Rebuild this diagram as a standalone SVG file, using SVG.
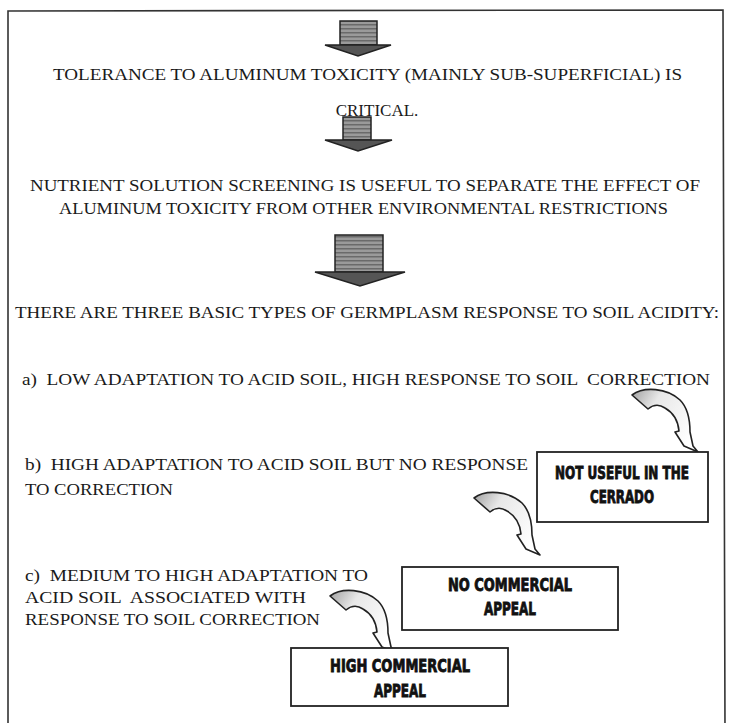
<svg xmlns="http://www.w3.org/2000/svg" width="729" height="723" viewBox="0 0 729 723">
<style>
.t{font-family:"Liberation Serif","Times New Roman","DejaVu Serif",serif;font-size:17px;fill:#1a1a1a}
.b{font-family:"DejaVu Sans Condensed","Liberation Sans Narrow","Liberation Sans",sans-serif;font-weight:bold;font-size:17px;fill:#111;stroke:#111;stroke-width:0.8;text-anchor:middle}
.box{fill:#fff;stroke:#222;stroke-width:1.8}
.blk{fill:url(#stripes);stroke:#222;stroke-width:1.5}
.head{fill:#555;stroke:#222;stroke-width:1.5}
.curve{fill:url(#cg);stroke:#222;stroke-width:1.6;stroke-linejoin:round}
</style>
<defs>
<pattern id="stripes" width="6" height="4" patternUnits="userSpaceOnUse">
<rect width="6" height="4" fill="#9a9a9a"/>
<rect width="6" height="1.5" fill="#6a6a6a"/>
</pattern>
<linearGradient id="cg" x1="0" y1="0" x2="1" y2="0.6">
<stop offset="0" stop-color="#a0a0a0"/>
<stop offset="0.35" stop-color="#e8e8e8"/>
<stop offset="1" stop-color="#ffffff"/>
</linearGradient>
<path id="carrow" d="M0,3 C12,-6 35,-4 48,8 C57,17 58,30 58,40 L61,54 L66,60 L52,54 L43,40 L47,39 C46,28 40,20 33,16 C27,12 22,12 16,17 Z"/>
</defs>
<g id="frame"><path d="M8,732 L8,11 L723,10 L725,732" fill="none" stroke="#333" stroke-width="1.6"/></g>
<g id="connectors">
<g id="arrow1"><rect class="blk" x="340" y="21" width="37" height="24"/><path class="head" d="M325,45 L391,45 L358,56 Z"/></g>
<g id="arrow2"><rect class="blk" x="343" y="117" width="28" height="23"/><path class="head" d="M325,140 L392,140 L358,151 Z"/></g>
<g id="arrow3"><rect class="blk" x="335" y="235" width="48" height="37"/><path class="head" d="M315,272 L405,272 L360,286 Z"/></g>
<use href="#carrow" class="curve" x="632" y="392"/>
<use href="#carrow" class="curve" x="474" y="495"/>
<use href="#carrow" class="curve" x="330" y="593"/>
</g>
<g id="intro">
<text class="t" x="53" y="80" textLength="629" lengthAdjust="spacingAndGlyphs">TOLERANCE TO ALUMINUM TOXICITY (MAINLY SUB-SUPERFICIAL) IS</text>
<text class="t" x="377" y="116" text-anchor="middle">CRITICAL.</text>
</g>
<g id="screening">
<text class="t" x="30" y="191" textLength="670" lengthAdjust="spacingAndGlyphs">NUTRIENT SOLUTION SCREENING IS USEFUL TO SEPARATE THE EFFECT OF</text>
<text class="t" x="59" y="214" textLength="609" lengthAdjust="spacingAndGlyphs">ALUMINUM TOXICITY FROM OTHER ENVIRONMENTAL RESTRICTIONS</text>
</g>
<g id="types">
<text class="t" x="15" y="318" textLength="704" lengthAdjust="spacingAndGlyphs">THERE ARE THREE BASIC TYPES OF GERMPLASM RESPONSE TO SOIL ACIDITY:</text>
</g>
<g id="type-a"><text class="t" x="22" y="385" textLength="688" lengthAdjust="spacingAndGlyphs" xml:space="preserve">a)  LOW ADAPTATION TO ACID SOIL, HIGH RESPONSE TO SOIL  CORRECTION</text></g>
<g id="type-b">
<text class="t" x="25" y="470" textLength="503" lengthAdjust="spacingAndGlyphs" xml:space="preserve">b)  HIGH ADAPTATION TO ACID SOIL BUT NO RESPONSE</text>
<text class="t" x="25" y="495" textLength="148" lengthAdjust="spacingAndGlyphs">TO CORRECTION</text>
</g>
<g id="type-c">
<text class="t" x="25" y="581" textLength="343" lengthAdjust="spacingAndGlyphs" xml:space="preserve">c)  MEDIUM TO HIGH ADAPTATION TO</text>
<text class="t" x="25" y="603" textLength="281" lengthAdjust="spacingAndGlyphs" xml:space="preserve">ACID SOIL  ASSOCIATED WITH</text>
<text class="t" x="25" y="625" textLength="295" lengthAdjust="spacingAndGlyphs">RESPONSE TO SOIL CORRECTION</text>
</g>
<g id="not-useful">
<rect class="box" x="537" y="452" width="171" height="70"/>
<text class="b" x="622" y="479" textLength="134" lengthAdjust="spacingAndGlyphs">NOT USEFUL IN THE</text>
<text class="b" x="622" y="503" textLength="64" lengthAdjust="spacingAndGlyphs">CERRADO</text>
</g>
<g id="no-commercial">
<rect class="box" x="402" y="567" width="216" height="63"/>
<text class="b" x="510" y="591" textLength="124" lengthAdjust="spacingAndGlyphs">NO COMMERCIAL</text>
<text class="b" x="510" y="615" textLength="52" lengthAdjust="spacingAndGlyphs">APPEAL</text>
</g>
<g id="high-commercial">
<rect class="box" x="291" y="648" width="217" height="58"/>
<text class="b" x="400" y="672" textLength="140" lengthAdjust="spacingAndGlyphs">HIGH COMMERCIAL</text>
<text class="b" x="400" y="697" textLength="52" lengthAdjust="spacingAndGlyphs">APPEAL</text>
</g>
</svg>
